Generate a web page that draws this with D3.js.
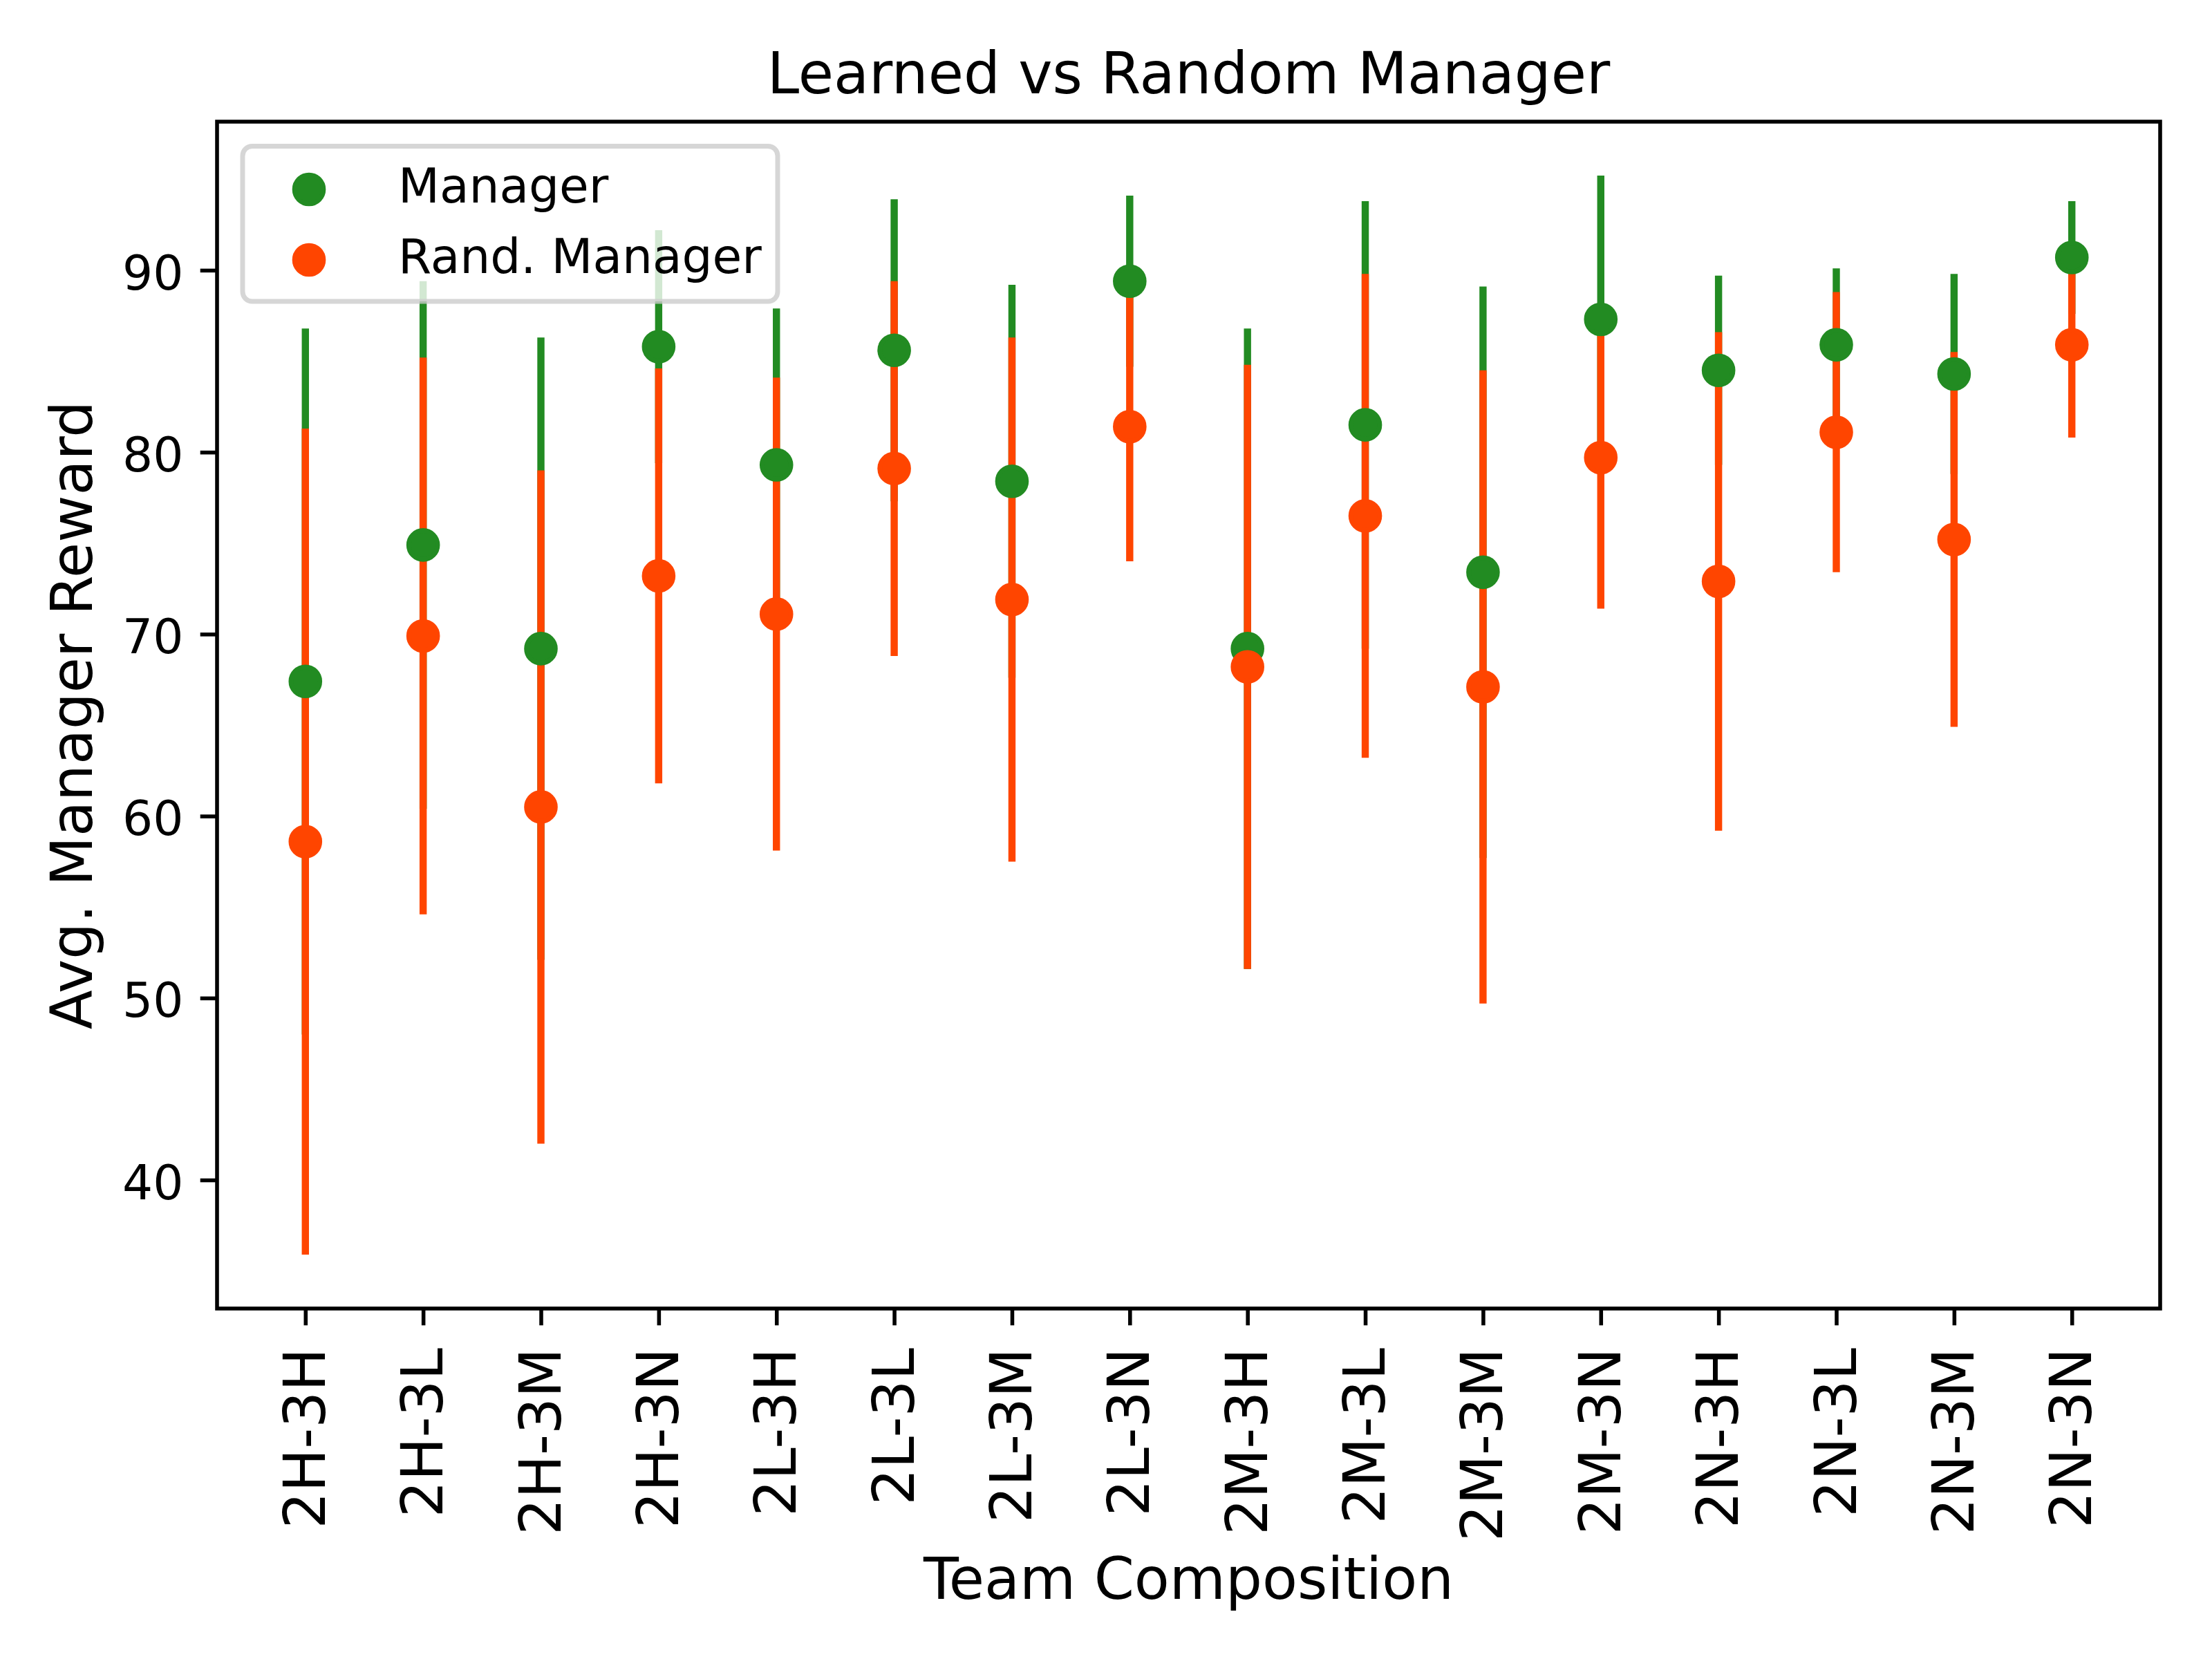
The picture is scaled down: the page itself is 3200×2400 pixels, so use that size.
<!DOCTYPE html>
<html>
<head>
<meta charset="utf-8">
<title>Learned vs Random Manager</title>
<script src="https://cdn.jsdelivr.net/npm/d3@7"></script>
<style>
	html, body { margin: 0; padding: 0; background: #fff; }
	svg { display: block; font-family: 'DejaVu Sans', sans-serif; }
</style>
</head>
<body>
<svg id="chart" width="3200" height="2400"></svg>
<script>
// Team compositions along the x axis
const teams = [
	'2H-3H', '2H-3L', '2H-3M', '2H-3N',
	'2L-3H', '2L-3L', '2L-3M', '2L-3N',
	'2M-3H', '2M-3L', '2M-3M', '2M-3N',
	'2N-3H', '2N-3L', '2N-3M', '2N-3N',
];

// Learned manager: mean reward and error (half bar length)
const managerMean = [67.4, 74.9, 69.2, 85.8, 79.3, 85.6, 78.4, 89.4, 69.2, 81.5, 73.4, 87.3, 84.5, 85.9, 84.3, 90.7];
const managerErr = [19.4, 14.5, 17.1, 6.4, 8.6, 8.3, 10.8, 4.7, 17.6, 12.3, 15.7, 7.9, 5.2, 4.2, 5.5, 3.1];

// Random manager
const randomMean = [58.6, 69.9, 60.5, 73.2, 71.1, 79.1, 71.9, 81.4, 68.2, 76.5, 67.1, 79.7, 72.9, 81.1, 75.2, 85.9];
const randomErr = [22.7, 15.3, 18.5, 11.4, 13.0, 10.3, 14.4, 7.4, 16.6, 13.3, 17.4, 8.3, 13.7, 7.7, 10.3, 5.1];

const yTicks = [40, 50, 60, 70, 80, 90];

const series = [
	{ name: 'Manager', color: '#228B22', mean: managerMean, err: managerErr },
	{ name: 'Rand. Manager', color: '#FF4500', mean: randomMean, err: randomErr },
];

const pt = 500 / 72;
const plot = { left: 314, right: 3125, top: 176, bottom: 1893 };
const fontSmall = 10 * pt;
const fontLarge = 12 * pt;

// matplotlib style auto limits: data range plus 5% on each side
const lows = series.flatMap(s => s.mean.map((m, i) => m - s.err[i]));
const highs = series.flatMap(s => s.mean.map((m, i) => m + s.err[i]));
const yMin = d3.min(lows);
const yMax = d3.max(highs);
const yPad = (yMax - yMin) * 0.05;
const xPad = (teams.length - 1) * 0.05;

const x = d3.scaleLinear()
	.domain([-xPad, teams.length - 1 + xPad])
	.range([plot.left, plot.right]);
const y = d3.scaleLinear()
	.domain([yMin - yPad, yMax + yPad])
	.range([plot.bottom, plot.top]);

const svg = d3.select('svg#chart');
svg.append('rect').attr('width', 3200).attr('height', 2400).attr('fill', '#fff');

// Error bars first, green then orange
const gBars = svg.append('g').attr('id', 'gBars');
series.forEach((s) => {
	gBars.append('g').selectAll('line')
		.data(s.mean).enter().append('line')
		.attr('x1', (d, i) => x(i)).attr('x2', (d, i) => x(i))
		.attr('y1', (d, i) => y(d - s.err[i])).attr('y2', (d, i) => y(d + s.err[i]))
		.attr('stroke', s.color).attr('stroke-width', 1.5 * pt);
});

// Mean markers on top of the bars
const gDots = svg.append('g').attr('id', 'gDots');
series.forEach((s) => {
	gDots.append('g').selectAll('circle')
		.data(s.mean).enter().append('circle')
		.attr('cx', (d, i) => x(i)).attr('cy', d => y(d))
		.attr('r', 3 * pt)
		.attr('fill', s.color).attr('stroke', s.color).attr('stroke-width', pt);
});

// Axes
const yAxis = svg.append('g')
	.attr('transform', `translate(${plot.left},0)`)
	.call(d3.axisLeft(y).tickValues(yTicks).tickSize(3.5 * pt).tickPadding(3.5 * pt).tickSizeOuter(0));
yAxis.select('.domain').remove();
yAxis.attr('font-family', null).attr('font-size', fontSmall);
yAxis.selectAll('line').attr('stroke', '#000').attr('stroke-width', 0.8 * pt);
yAxis.selectAll('text').attr('fill', '#000').attr('dy', '0.39em');

const xAxis = svg.append('g')
	.attr('transform', `translate(0,${plot.bottom})`)
	.call(d3.axisBottom(x).tickValues(d3.range(teams.length)).tickFormat(i => teams[i])
		.tickSize(3.5 * pt).tickSizeOuter(0));
xAxis.select('.domain').remove();
xAxis.attr('font-family', null).attr('font-size', fontLarge);
xAxis.selectAll('line').attr('stroke', '#000').attr('stroke-width', 0.8 * pt);
xAxis.selectAll('text')
	.attr('fill', '#000')
	.attr('y', null).attr('dy', null)
	.attr('text-anchor', 'end')
	.attr('transform', 'translate(27.5,57) rotate(-90)');

// Frame
svg.append('rect')
	.attr('x', plot.left).attr('y', plot.top)
	.attr('width', plot.right - plot.left).attr('height', plot.bottom - plot.top)
	.attr('fill', 'none').attr('stroke', '#000').attr('stroke-width', 0.8 * pt);

// Titles
const midX = (plot.left + plot.right) / 2;
svg.append('text')
	.attr('x', midX).attr('y', 135)
	.attr('text-anchor', 'middle').attr('font-size', fontLarge)
	.text('Learned vs Random Manager');
svg.append('text')
	.attr('x', midX).attr('y', 2313)
	.attr('text-anchor', 'middle').attr('font-size', fontLarge)
	.text('Team Composition');
svg.append('text')
	.attr('transform', `translate(133,${(plot.top + plot.bottom) / 2}) rotate(-90)`)
	.attr('text-anchor', 'middle').attr('font-size', fontLarge)
	.text('Avg. Manager Reward');

// Legend
const legend = svg.append('g').attr('id', 'gLegend');
legend.append('rect')
	.attr('x', 351).attr('y', 211.5).attr('width', 774).attr('height', 224.5)
	.attr('rx', 0.2 * fontSmall)
	.attr('fill', '#fff').attr('fill-opacity', 0.8)
	.attr('stroke', '#cccccc').attr('stroke-opacity', 0.8).attr('stroke-width', pt);
const rows = legend.selectAll('g.entry')
	.data(series).enter().append('g').classed('entry', true)
	.attr('transform', (d, i) => `translate(0,${274 + i * 102})`);
rows.append('circle')
	.attr('cx', 447).attr('cy', 0).attr('r', 3 * pt)
	.attr('fill', d => d.color).attr('stroke', d => d.color).attr('stroke-width', pt);
rows.append('text')
	.attr('x', 576).attr('y', 19)
	.attr('font-size', fontSmall)
	.text(d => d.name);
</script>
</body>
</html>
